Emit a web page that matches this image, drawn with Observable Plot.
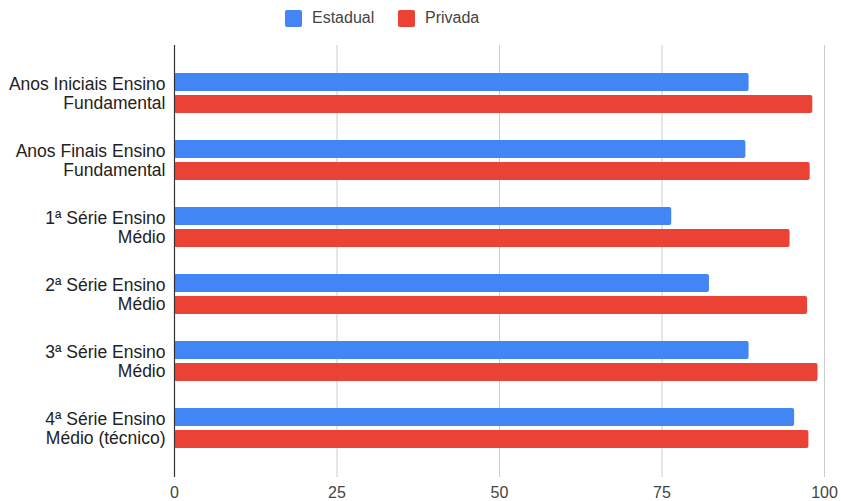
<!DOCTYPE html>
<html>
<head>
<meta charset="utf-8">
<script src="https://cdn.jsdelivr.net/npm/d3@7"></script>
<script src="https://cdn.jsdelivr.net/npm/@observablehq/plot@0.6"></script>
<style>
  body { margin: 0; background: #fff; font-family: "Liberation Sans", Arial, sans-serif; }
  #legend { position: relative; height: 30px; width: 841px; }
  .item { position: absolute; top: 9px; display: flex; align-items: center; font-size: 16px; color: #444; }
  .swatch { width: 17px; height: 17px; border-radius: 2px; margin-right: 10px; }
</style>
</head>
<body>
<div id="legend"></div>
<div id="chart"></div>
<script>
// School stages on the vertical axis
const categories = [
  "Anos Iniciais Ensino Fundamental",
  "Anos Finais Ensino Fundamental",
  "1ª Série Ensino Médio",
  "2ª Série Ensino Médio",
  "3ª Série Ensino Médio",
  "4ª Série Ensino Médio (técnico)"
];
const tickLabels = [
  "Anos Iniciais Ensino\nFundamental",
  "Anos Finais Ensino\nFundamental",
  "1ª Série Ensino\nMédio",
  "2ª Série Ensino\nMédio",
  "3ª Série Ensino\nMédio",
  "4ª Série Ensino\nMédio (técnico)"
];
const seriesNames = ["Estadual", "Privada"];
const estadual = [88.4, 87.9, 76.5, 82.3, 88.4, 95.4];
const privada = [98.2, 97.8, 94.7, 97.4, 99.0, 97.6];
const xTicks = [0, 25, 50, 75, 100];
const colors = ["#4285f4", "#ea4335"];

// Legend
const legend = document.getElementById("legend");
const legendLeft = [285, 398];
seriesNames.forEach((name, i) => {
  const item = document.createElement("div");
  item.className = "item";
  item.style.left = legendLeft[i] + "px";
  const sw = document.createElement("div");
  sw.className = "swatch";
  sw.style.background = colors[i];
  item.appendChild(sw);
  item.appendChild(document.createTextNode(name));
  legend.appendChild(item);
});

const rowsEstadual = categories.map((c, i) => ({ category: c, value: estadual[i] }));
const rowsPrivada = categories.map((c, i) => ({ category: c, value: privada[i] }));

const chart = Plot.plot({
  width: 841,
  height: 471,
  marginTop: 15,
  marginBottom: 24,
  marginLeft: 174,
  marginRight: 17,
  style: { fontFamily: "'Liberation Sans', Arial, sans-serif", fontSize: "16px", background: "#fff" },
  x: { domain: [0, 100] },
  y: { domain: categories, paddingInner: 0.396, paddingOuter: 0.379, align: 0.5 },
  marks: [
    Plot.gridX(xTicks.slice(1), { stroke: "#cccccc", strokeOpacity: 1 }),
    Plot.barX(rowsEstadual, { x: "value", y: "category", fill: colors[0], insetBottom: 22, rx: 2 }),
    Plot.barX(rowsPrivada, { x: "value", y: "category", fill: colors[1], insetTop: 22, rx: 2 }),
    Plot.ruleX([0], { stroke: "#333", strokeWidth: 1.2 }),
    Plot.axisX({ ticks: xTicks, tickSize: 0, tickPadding: 9, fontSize: 16, fill: "#444", label: null }),
    Plot.axisY({
      tickSize: 0,
      tickPadding: 9,
      fontSize: 17.5,
      fill: "#222",
      lineHeight: 1.1,
      label: null,
      tickFormat: (d) => tickLabels[categories.indexOf(d)]
    })
  ]
});
document.getElementById("chart").appendChild(chart);
</script>
</body>
</html>
